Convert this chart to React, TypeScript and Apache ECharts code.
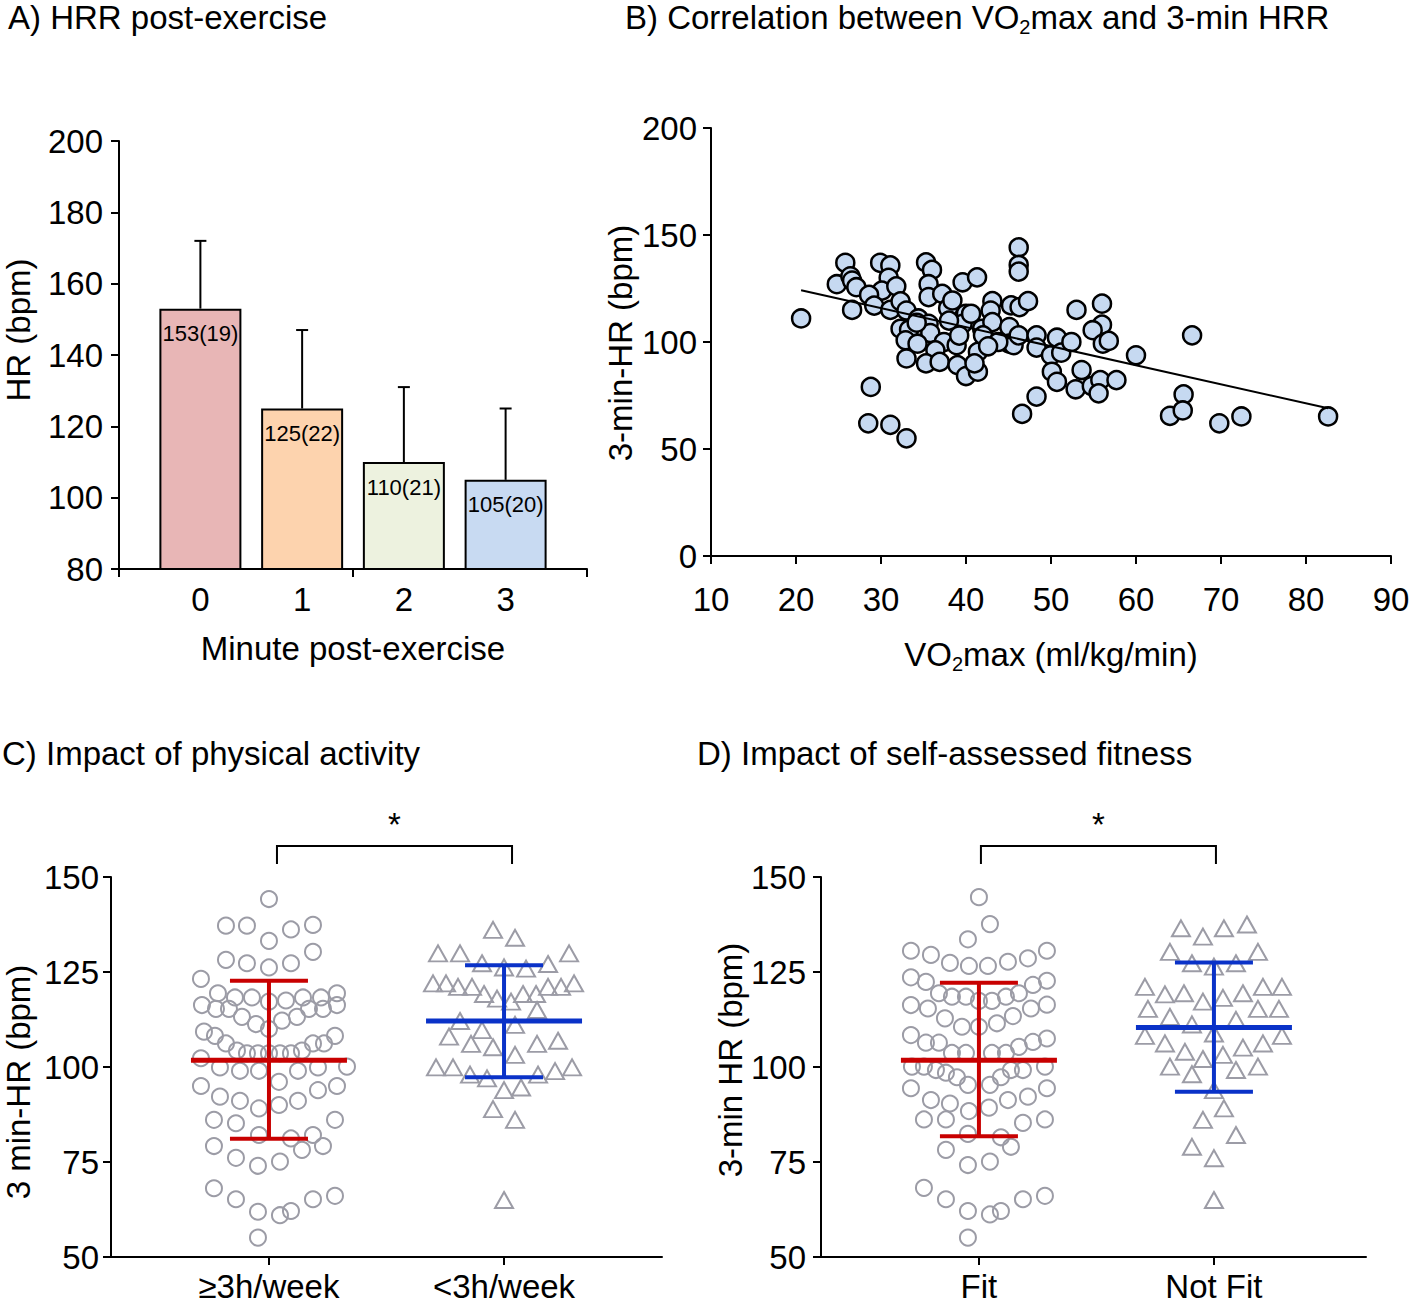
import React, { useEffect, useRef } from 'react';
import * as echarts from 'echarts';

const FONT = '"Liberation Sans", Arial, Helvetica, sans-serif';

// ---------- Panel A: HRR post-exercise ----------
const minutes = [0, 1, 2, 3];
const hrMean = [153, 125, 110, 105];
const hrSD = [19, 22, 21, 20];
const barColors = ['#E8B6B6', '#FDD3AE', '#EDF2DF', '#C8DAF2'];
const aTickValues = [-0.8, 1.5, 3.8];

// ---------- Panel B: VO2max vs 3-min HRR ----------
const vo2max = [
  20.6, 25.8, 24.8, 26.4, 26.6, 27.1, 26.6, 29.9, 31.1, 30.9, 30.1, 28.6, 29.2, 31.8, 31.1, 32.3,
  33.0, 34.4, 32.3, 33.3, 32.9, 33.0, 35.3, 36.0, 35.6, 35.6, 37.2, 37.9, 38.4, 35.6, 35.8, 37.4,
  36.4, 35.3, 36.9, 38.9, 39.6, 41.3, 40.0, 39.6, 40.6, 41.9, 41.4, 39.0, 40.0, 41.4, 41.0, 43.1,
  42.9, 43.1, 42.0, 45.1, 45.3, 46.3, 47.3, 46.2, 46.2, 46.2, 45.1, 45.6, 46.2, 46.6, 48.3, 48.3,
  48.3, 50.0, 50.7, 51.2, 52.4, 50.1, 50.7, 53.6, 53.0, 52.9, 54.8, 56.0, 56.0, 54.9, 56.1, 56.8,
  55.8, 55.6, 57.7, 60.0, 64.0, 65.6, 65.5, 66.6, 69.8, 72.4, 82.6, 28.8, 28.5, 31.1, 33.0, 34.3,
  34.2, 38.0, 39.2, 43.8, 42.6
];
const hrr3 = [
  111, 137, 127, 130.7, 128.7, 125.6, 115, 137, 135.8, 130, 124, 122, 117, 126, 115, 119,
  114.7, 111, 106.2, 105.8, 100.8, 92.3, 137.2, 133.7, 127, 121, 122.5, 115.8, 119.4, 108.5, 104.2, 100,
  96.1, 90, 90.7, 98.5, 127.9, 130.2, 113.2, 108.5, 113.2, 106.2, 95.4, 89.2, 84.1, 86.1, 90, 119.1,
  114.7, 109.3, 103.1, 107, 117.1, 116.3, 119.1, 144.2, 136, 132.9, 99.2, 98.5, 103.1, 66.4, 103.1, 97.4,
  74.5, 93.8, 102, 95, 100, 86.1, 81.4, 86.9, 115, 77.9, 79.4, 117.9, 108.1, 105.5, 99.2, 100.5,
  82.2, 76, 82.2, 93.8, 65.5, 75.5, 68, 103.1, 62, 65.2, 65.2, 79, 62, 61.3, 55, 99.2,
  109, 110, 103, 100, 98
];
const fitLineX = [20.6, 82.6];
const fitLineY = [124.2, 69.0];

// ---------- Panels C & D: swarm plots [jitter, value] ----------
const JITTER_PER_CATEGORY = 235;
const physCats = ['\u22653h/week', '<3h/week'];
const physHigh = [
  [0, 144.2], [-43, 137.2], [-22, 137.2], [22, 136.2], [44, 137.4], [0, 133.2], [44, 130.3], [-43, 128.2],
  [-22, 127.3], [0, 126.2], [22, 127.3], [-68, 123.2], [-51, 119.4], [-34, 118.3], [-17, 118.3], [0, 117.2],
  [17, 117.5], [34, 118.3], [52, 118.3], [68, 119.4], [-67, 116.3], [-53, 115.3], [-40, 115.3], [40, 115.3],
  [54, 115.3], [68, 116.3], [-27, 113.2], [28, 113.2], [-13, 111.3], [13, 112.2], [0, 110], [-65, 109.3],
  [-54, 108.2], [-43, 106.2], [-32, 104.3], [-22, 103.6], [-11, 103.6], [0, 103.6], [11, 103.6], [22, 103.6],
  [33, 104.3], [44, 106.2], [55, 106.2], [66, 108.2], [-68, 102.3], [-49, 99.9], [-29, 99], [-10, 99],
  [29, 99], [49, 99.9], [78, 100.1], [10, 96.1], [-68, 95], [49, 93.9], [68, 95], [-49, 92.2],
  [-29, 91.1], [-10, 89.1], [10, 90], [29, 91.1], [-55, 86.1], [-33, 85.2], [66, 86.1], [-10, 82.1],
  [22, 81.2], [44, 82.1], [-55, 79.2], [33, 78.2], [54, 79.2], [-33, 76.1], [-11, 74], [11, 75.1],
  [-55, 68.1], [-33, 65.2], [-11, 61.9], [11, 61], [22, 62.1], [44, 65.2], [66, 66.1], [-11, 55.1]
];
const physLow = [
  [-11, 136.1], [11, 134], [-66, 129.9], [-44, 129.9], [65, 129.9], [-22, 127.3], [0, 126.2], [22, 125.9],
  [44, 127.1], [-71, 122], [-58, 122], [-46, 121.1], [-32, 121.1], [-20, 119.2], [-7, 118], [7, 117.2],
  [19, 119.2], [32, 119.2], [44, 121.1], [57, 121.1], [70, 122], [33, 115], [-44, 112.1], [11, 111.1],
  [-22, 109.7], [-55, 108], [-33, 106.1], [-11, 105.2], [33, 106.1], [54, 106.9], [11, 103.2], [-68, 99.9],
  [-51, 99.9], [-34, 98], [-17, 97], [34, 98], [51, 98.9], [68, 99.9], [0, 93.9], [17, 94.6],
  [-11, 88.9], [11, 86.1], [0, 65]
];
const physMean = [101.8, 112.1];
const physLo = [81.1, 97.3];
const physHi = [122.7, 126.8];

const fitCats = ['Fit', 'Not Fit'];
const fitYes = [
  [0, 144.7], [11, 137.6], [-11, 133.6], [-68, 130.6], [-48, 129.5], [-29, 127.4], [-10, 126.6], [9, 126.6],
  [29, 127.7], [49, 128.6], [68, 130.6], [-68, 123.6], [-53, 122.4], [-40, 119.4], [-27, 118.5], [-13, 118.5],
  [0, 117.4], [13, 117.4], [27, 118.5], [40, 119.4], [54, 121.6], [68, 122.7], [-68, 116.3], [-51, 115.4],
  [52, 115.4], [68, 116.4], [-34, 112.8], [-17, 110.6], [0, 110.6], [18, 111.5], [34, 113.4], [-68, 108.4],
  [-53, 106.4], [-40, 106.4], [40, 105.3], [54, 106.6], [68, 107.5], [-27, 103.7], [-13, 103.7], [13, 103.7],
  [27, 103.7], [-67, 100.1], [-55, 100.1], [-43, 99.2], [-33, 98.5], [-22, 97.3], [-11, 95.3], [11, 95.3],
  [22, 97.3], [32, 99.2], [44, 99.2], [66, 100.1], [-68, 94.4], [68, 94.4], [-48, 91.3], [-29, 90.4],
  [-10, 88.4], [10, 89.3], [29, 91.3], [49, 92.2], [-55, 86.2], [-33, 86.2], [44, 85.3], [66, 86.2],
  [-11, 82.4], [22, 81.5], [-33, 78.2], [32, 79], [-11, 74.2], [11, 75.1], [-55, 68.2], [-33, 65.2],
  [-11, 62.1], [11, 61.2], [22, 62.1], [44, 65.2], [66, 66.1], [-11, 55.1]
];
const fitNo = [
  [-33, 136.5], [-11, 134.3], [10, 136.5], [33, 137.5], [-44, 130.3], [44, 130.3], [-22, 127.3], [0, 126.4],
  [22, 127.3], [-69, 121.1], [-49, 119.1], [-30, 119.4], [-11, 117.2], [9, 118.2], [29, 119.4], [49, 121.1],
  [68, 121.1], [-66, 115.3], [-44, 113.2], [44, 115.3], [65, 115.3], [-22, 111.2], [0, 108.8], [22, 112.4],
  [-69, 108.2], [-49, 106.2], [-29, 104], [-11, 102.1], [9, 103.2], [29, 105.1], [49, 106.2], [68, 108.2],
  [-44, 100.1], [-22, 98.1], [22, 99.2], [44, 100.1], [0, 93.9], [10, 89.1], [-11, 86.1], [22, 82.1],
  [-22, 79], [0, 76], [0, 65]
];
const fitMean = [101.8, 110.4];
const fitLo = [81.8, 93.5];
const fitHi = [122.2, 127.5];

const groupColors = ['#C80000', '#0A32C8'];
const dotColor = '#9C9CA6';

const axisLine = { show: true, onZero: false, lineStyle: { color: '#000', width: 2 } };
const tick = (len = 8) => ({ show: true, length: len, lineStyle: { color: '#000', width: 2 } });
const lbl = (margin: number, extra: any = {}) => ({
  color: '#000', fontSize: 33, fontFamily: FONT, margin, ...extra,
});

const swarm = (pts: number[][], cat: number) =>
  pts.map(([j, v]) => [cat + j / JITTER_PER_CATEGORY, v]);

const meanSdRender = (params: any, api: any) => {
  const x = api.value(0);
  const pm = api.coord([x, api.value(1)]);
  const pl = api.coord([x, api.value(2)]);
  const ph = api.coord([x, api.value(3)]);
  const c = groupColors[params.dataIndex];
  const st = (w: number) => ({ stroke: c, lineWidth: w });
  return {
    type: 'group',
    children: [
      { type: 'line', shape: { x1: pm[0], y1: ph[1], x2: pm[0], y2: pl[1] }, style: st(4) },
      { type: 'line', shape: { x1: pm[0] - 78, y1: pm[1], x2: pm[0] + 78, y2: pm[1] }, style: st(5) },
      { type: 'line', shape: { x1: pm[0] - 39, y1: ph[1], x2: pm[0] + 39, y2: ph[1] }, style: st(4) },
      { type: 'line', shape: { x1: pm[0] - 39, y1: pl[1], x2: pm[0] + 39, y2: pl[1] }, style: st(4) },
    ],
  };
};

const bracketRender = (params: any, api: any) => {
  const a = api.coord([api.value(0), 100]);
  const b = api.coord([api.value(1), 100]);
  const shift = api.value(2);
  const top = params.coordSys.y;
  const yH = top - 31;
  const yV = top - 13;
  return {
    type: 'group',
    children: [
      {
        type: 'polyline',
        shape: { points: [[a[0] + shift, yV], [a[0] + shift, yH], [b[0] + shift, yH], [b[0] + shift, yV]] },
        style: { stroke: '#000', lineWidth: 2, fill: null },
      },
      {
        type: 'text',
        style: {
          text: '*', x: (a[0] + b[0]) / 2 + shift, y: yH - 22, align: 'center', verticalAlign: 'middle',
          fontSize: 33, fill: '#000', fontFamily: FONT,
        },
      },
    ],
  };
};

const richSub = {
  a: { fontSize: 33, lineHeight: 40, verticalAlign: 'middle', fontFamily: FONT, color: '#000' },
  s: { fontSize: 20, lineHeight: 14, verticalAlign: 'bottom', fontFamily: FONT, color: '#000' },
};

const titleText = (text: string, x: number, y: number) => ({
  type: 'text', x, y,
  style: { text, fontSize: 33, fontFamily: FONT, fill: '#000', align: 'left', verticalAlign: 'middle' },
});
const yName = (text: string, x: number, y: number) => ({
  type: 'text', x, y, rotation: Math.PI / 2,
  style: {
    text, fontSize: 33, lineHeight: 30, fontFamily: FONT, fill: '#000', align: 'center', verticalAlign: 'middle',
  },
});

export default function App() {
  const ref = useRef<HTMLDivElement>(null);
  useEffect(() => {
    if (!ref.current) return;
    const chart = echarts.init(ref.current, undefined, { renderer: 'svg' });
    const gridBase = { containLabel: false, outerBoundsMode: 'none', show: false };
    chart.setOption({
      animation: false,
      backgroundColor: '#fff',
      textStyle: { fontFamily: FONT },
      grid: [
        { ...gridBase, left: 119, top: 141, width: 468, height: 428 },
        { ...gridBase, left: 711, top: 128, width: 680, height: 428 },
        { ...gridBase, left: 111, top: 877, width: 551, height: 380 },
        { ...gridBase, left: 821, top: 877, width: 545, height: 380 },
      ],
      xAxis: [
        {
          gridIndex: 0, type: 'value', min: -0.8, max: 3.8, splitLine: { show: false },
          axisLine, axisTick: { ...tick(8), customValues: aTickValues },
          axisLabel: lbl(14, { customValues: minutes }),
          name: 'Minute post-exercise', nameLocation: 'middle', nameGap: 63,
          nameTextStyle: { color: '#000', fontSize: 33, fontFamily: FONT },
        },
        {
          gridIndex: 1, type: 'value', min: 10, max: 90, interval: 10, splitLine: { show: false },
          axisLine, axisTick: tick(8), axisLabel: lbl(27),
          name: '{a|VO}{s|2}{a|max (ml/kg/min)}', nameLocation: 'middle', nameGap: 78,
          nameTextStyle: { rich: richSub },
        },
        {
          gridIndex: 2, type: 'value', min: 0.328, max: 2.672, splitLine: { show: false },
          axisLine, axisTick: { ...tick(8), customValues: [1, 2] },
          axisLabel: lbl(14, {
            lineHeight: 30, customValues: [1, 2], formatter: (v: number) => physCats[Math.round(v) - 1],
          }),
        },
        {
          gridIndex: 3, type: 'value', min: 0.328, max: 2.647, splitLine: { show: false },
          axisLine, axisTick: { ...tick(8), customValues: [1, 2] },
          axisLabel: lbl(14, {
            lineHeight: 30, customValues: [1, 2], formatter: (v: number) => fitCats[Math.round(v) - 1],
          }),
        },
      ],
      yAxis: [
        { gridIndex: 0, type: 'value', min: 80, max: 200, interval: 20, splitLine: { show: false }, axisLine, axisTick: tick(8), axisLabel: lbl(16) },
        { gridIndex: 1, type: 'value', min: 0, max: 200, interval: 50, splitLine: { show: false }, axisLine, axisTick: tick(8), axisLabel: lbl(14) },
        { gridIndex: 2, type: 'value', min: 50, max: 150, interval: 25, splitLine: { show: false }, axisLine, axisTick: tick(8), axisLabel: lbl(12) },
        { gridIndex: 3, type: 'value', min: 50, max: 150, interval: 25, splitLine: { show: false }, axisLine, axisTick: tick(8), axisLabel: lbl(15) },
      ],
      graphic: [
        titleText('A) HRR post-exercise', 8, 17),
        {
          type: 'text', x: 625, y: 17,
          style: { text: '{a|B) Correlation between VO}{s|2}{a|max and 3-min HRR}', rich: richSub, align: 'left', verticalAlign: 'middle' },
        },
        titleText('C) Impact of physical activity', 2, 753),
        titleText('D) Impact of self-assessed fitness', 697, 753),
        yName('HR (bpm)', 18, 330),
        yName('3-min-HR (bpm)', 620, 343),
        yName('3 min-HR (bpm)', 18, 1082),
        yName('3-min HR (bpm)', 730, 1060),
      ],
      series: [
        // Panel A
        {
          type: 'bar', xAxisIndex: 0, yAxisIndex: 0, barWidth: 82,
          data: minutes.map((m, i) => ({ value: [m, hrMean[i]], itemStyle: { color: barColors[i] } })),
          itemStyle: { borderColor: '#000', borderWidth: 2 },
          label: {
            show: true, position: 'insideTop', distance: 14, color: '#000', fontSize: 22, fontFamily: FONT,
            formatter: (p: any) => `${hrMean[p.dataIndex]}(${hrSD[p.dataIndex]})`,
          },
        },
        {
          type: 'custom', xAxisIndex: 0, yAxisIndex: 0, z: 3,
          data: minutes.map((m, i) => [m, hrMean[i], hrSD[i]]),
          renderItem: (params: any, api: any) => {
            const p0 = api.coord([api.value(0), api.value(1)]);
            const p1 = api.coord([api.value(0), api.value(1) + api.value(2)]);
            const st = { stroke: '#000', lineWidth: 2 };
            return {
              type: 'group', children: [
                { type: 'line', shape: { x1: p0[0], y1: p0[1], x2: p1[0], y2: p1[1] }, style: st },
                { type: 'line', shape: { x1: p1[0] - 6, y1: p1[1], x2: p1[0] + 6, y2: p1[1] }, style: st },
              ],
            };
          },
        },
        // Panel B
        {
          type: 'line', xAxisIndex: 1, yAxisIndex: 1, showSymbol: false, symbol: 'none',
          data: fitLineX.map((x, i) => [x, fitLineY[i]]),
          lineStyle: { color: '#000', width: 2 },
        },
        {
          type: 'scatter', xAxisIndex: 1, yAxisIndex: 1, symbolSize: 18,
          data: vo2max.map((x, i) => [x, hrr3[i]]),
          itemStyle: { color: '#C6D9F1', borderColor: '#000', borderWidth: 2.5, opacity: 1 },
        },
        // Panel C
        {
          type: 'scatter', xAxisIndex: 2, yAxisIndex: 2, symbol: 'circle', symbolSize: 16, z: 2,
          data: swarm(physHigh, 1),
          itemStyle: { color: 'rgba(255,255,255,0)', borderColor: dotColor, borderWidth: 2, opacity: 1 },
        },
        {
          type: 'scatter', xAxisIndex: 2, yAxisIndex: 2, symbol: 'triangle', symbolSize: [18, 16], z: 2,
          data: swarm(physLow, 2),
          itemStyle: { color: 'rgba(255,255,255,0)', borderColor: dotColor, borderWidth: 2, opacity: 1 },
        },
        {
          type: 'custom', xAxisIndex: 2, yAxisIndex: 2, z: 4,
          data: physMean.map((m, i) => [i + 1, m, physLo[i], physHi[i]]),
          renderItem: meanSdRender,
        },
        {
          type: 'custom', xAxisIndex: 2, yAxisIndex: 2, z: 4, clip: false,
          data: [[1, 2, 8]], renderItem: bracketRender,
        },
        // Panel D
        {
          type: 'scatter', xAxisIndex: 3, yAxisIndex: 3, symbol: 'circle', symbolSize: 16, z: 2,
          data: swarm(fitYes, 1),
          itemStyle: { color: 'rgba(255,255,255,0)', borderColor: dotColor, borderWidth: 2, opacity: 1 },
        },
        {
          type: 'scatter', xAxisIndex: 3, yAxisIndex: 3, symbol: 'triangle', symbolSize: [18, 16], z: 2,
          data: swarm(fitNo, 2),
          itemStyle: { color: 'rgba(255,255,255,0)', borderColor: dotColor, borderWidth: 2, opacity: 1 },
        },
        {
          type: 'custom', xAxisIndex: 3, yAxisIndex: 3, z: 4,
          data: fitMean.map((m, i) => [i + 1, m, fitLo[i], fitHi[i]]),
          renderItem: meanSdRender,
        },
        {
          type: 'custom', xAxisIndex: 3, yAxisIndex: 3, z: 4, clip: false,
          data: [[1, 2, 2]], renderItem: bracketRender,
        },
      ],
    });
    return () => chart.dispose();
  }, []);
  return (
    <div
      ref={ref}
      style={{ position: 'absolute', left: 0, top: 0, width: 1412, height: 1304, background: '#fff' }}
    />
  );
}
